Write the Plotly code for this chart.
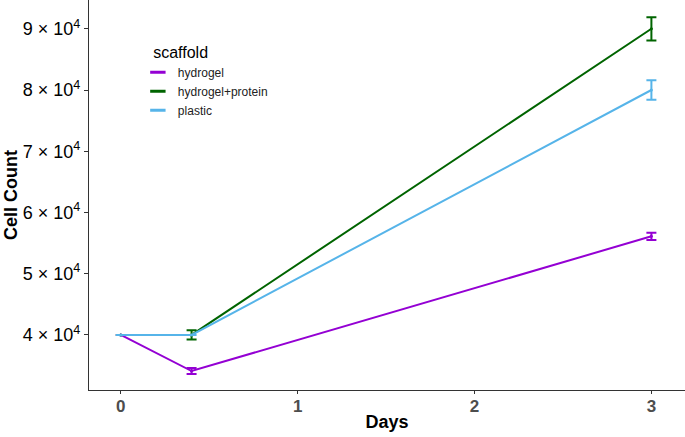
import plotly.graph_objects as go

days = [0, 0.4, 3]
series_names = ["hydrogel", "hydrogel+protein", "plastic"]
hydrogel = [40000, 34100, 56100]
hydrogel_err = [0, 500, 600]
protein = [40000, 40000, 90000]
protein_err = [0, 750, 1900]
plastic = [40000, 40000, 80000]
plastic_err = [0, 0, 1600]
colors = ["#9400D3", "#006400", "#56B4E9"]

y_ticks = [40000, 50000, 60000, 70000, 80000, 90000]
y_tick_text = [f"{int(v/10000)} × 10<sup>4</sup>" for v in y_ticks]
x_ticks = [0, 1, 2, 3]

FONT = "Liberation Sans, Arial, sans-serif"

fig = go.Figure()
for name, vals, errs, col in zip(series_names, [hydrogel, protein, plastic],
                                 [hydrogel_err, protein_err, plastic_err], colors):
    fig.add_trace(go.Scatter(
        x=days, y=vals, name=name, mode="lines+markers", showlegend=False,
        line=dict(color=col, width=2),
        marker=dict(color=col, size=3),
        error_y=dict(type="data", array=errs, color=col, thickness=2, width=5, visible=True),
    ))
# legend keys (short line with dot, like ggplot keys)
for name, col in zip(series_names, colors):
    fig.add_trace(go.Scatter(
        x=[None], y=[None], name=name, mode="markers",
        marker=dict(symbol="line-ew-open", size=11, color=col, line=dict(color=col, width=3)),
    ))

fig.update_layout(
    width=685, height=437,
    margin=dict(l=89, r=0, t=0, b=47),
    paper_bgcolor="white", plot_bgcolor="white",
    font=dict(family=FONT, color="black"),
    showlegend=True,
    legend=dict(
        title=dict(text="&nbsp;&nbsp;&nbsp;scaffold", font=dict(size=16, color="black")),
        x=0.082, y=0.905, xanchor="left", yanchor="top",
        font=dict(size=12, color="#222"),
        bgcolor="rgba(0,0,0,0)", tracegroupgap=0,
    ),
    xaxis=dict(
        range=[-0.18, 3.19], tickvals=x_ticks, ticktext=[f"<b>{t}</b>" for t in x_ticks],
        showgrid=False, zeroline=False, showline=True, linecolor="#333", linewidth=1.2,
        ticks="outside", ticklen=3, tickcolor="#333", automargin=False,
        ticklabelstandoff=-3,
        tickfont=dict(size=17, color="#4d4d4d", family=FONT),
        title=dict(text="<b>Days</b>", font=dict(size=18, color="black"), standoff=0),
    ),
    yaxis=dict(
        range=[31000, 94700], tickvals=y_ticks, ticktext=y_tick_text,
        showgrid=False, zeroline=False, showline=True, linecolor="#333", linewidth=1.2,
        ticks="outside", ticklen=4, tickcolor="#333", automargin=False,
        tickfont=dict(size=18, color="black"),
        title=dict(text="<b>Cell Count</b>", font=dict(size=18, color="black"), standoff=0),
    ),
)

fig.write_html("out.html", config={"displayModeBar": False},
               post_script="document.body.style.margin='0';")
